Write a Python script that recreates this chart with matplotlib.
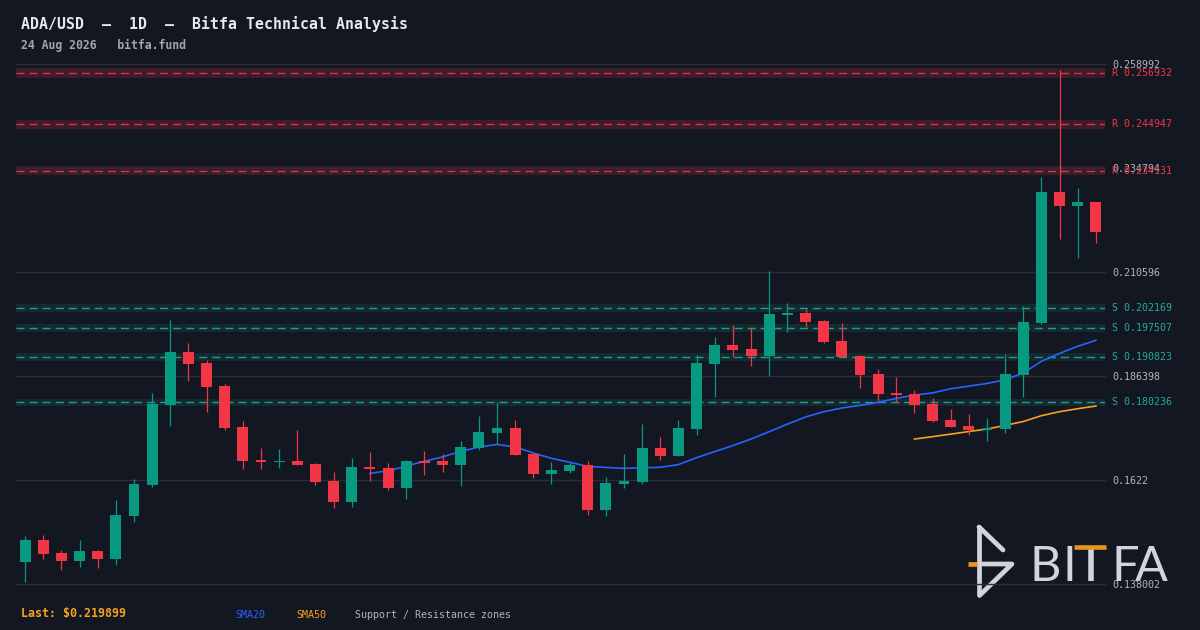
import matplotlib
matplotlib.use("Agg")
import matplotlib.pyplot as plt
import matplotlib.transforms as mtransforms
import numpy as np
import pandas as pd

# ---------------- data ----------------
opens = [0.1431, 0.1482, 0.1452, 0.1434, 0.1457, 0.1438, 0.1538, 0.1610, 0.1797, 0.1920,
         0.1894, 0.1841, 0.1745, 0.1669, 0.1663, 0.1666, 0.1659, 0.1620, 0.1571, 0.1652,
         0.1650, 0.1603, 0.1666, 0.1666, 0.1657, 0.1696, 0.1731, 0.1743, 0.1683, 0.1636,
         0.1643, 0.1657, 0.1552, 0.1613, 0.1617, 0.1696, 0.1678, 0.1741, 0.1892, 0.1936,
         0.1927, 0.1911, 0.2006, 0.2011, 0.1992, 0.1945, 0.1911, 0.1869, 0.1824, 0.1822,
         0.1799, 0.1762, 0.1748, 0.1738, 0.1741, 0.1866, 0.1987, 0.2292, 0.2260, 0.2269]

highs = [0.1492, 0.1494, 0.1459, 0.1482, 0.1459, 0.1575, 0.1624, 0.1824, 0.1994, 0.1941,
         0.1901, 0.1845, 0.1759, 0.1696, 0.1694, 0.1738, 0.1662, 0.1641, 0.1673, 0.1687,
         0.1662, 0.1669, 0.1689, 0.1683, 0.1713, 0.1771, 0.1804, 0.1762, 0.1683, 0.1664,
         0.1664, 0.1666, 0.1629, 0.1683, 0.1752, 0.1722, 0.1762, 0.1913, 0.1955, 0.1983,
         0.1976, 0.2108, 0.2034, 0.2020, 0.1994, 0.1987, 0.1913, 0.1880, 0.1862, 0.1831,
         0.1813, 0.1787, 0.1776, 0.1766, 0.1915, 0.2027, 0.2327, 0.2576, 0.2301, 0.2269]

lows = [0.1385, 0.1438, 0.1413, 0.1420, 0.1417, 0.1424, 0.1524, 0.1606, 0.1748, 0.1852,
        0.1780, 0.1738, 0.1648, 0.1648, 0.1650, 0.1657, 0.1610, 0.1557, 0.1559, 0.1620,
        0.1599, 0.1578, 0.1634, 0.1641, 0.1608, 0.1692, 0.1706, 0.1680, 0.1627, 0.1613,
        0.1638, 0.1541, 0.1538, 0.1603, 0.1613, 0.1669, 0.1678, 0.1727, 0.1815, 0.1908,
        0.1887, 0.1864, 0.1966, 0.1978, 0.1941, 0.1908, 0.1836, 0.1806, 0.1804, 0.1778,
        0.1757, 0.1745, 0.1727, 0.1713, 0.1731, 0.1815, 0.1985, 0.2183, 0.2139, 0.2173]

closes = [0.1482, 0.1450, 0.1434, 0.1457, 0.1438, 0.1541, 0.1613, 0.1799, 0.1920, 0.1892,
          0.1838, 0.1743, 0.1666, 0.1664, 0.1667, 0.1657, 0.1617, 0.1571, 0.1652, 0.1648,
          0.1603, 0.1666, 0.1662, 0.1657, 0.1699, 0.1734, 0.1743, 0.1680, 0.1636, 0.1645,
          0.1657, 0.1552, 0.1615, 0.1620, 0.1696, 0.1678, 0.1743, 0.1894, 0.1936, 0.1924,
          0.1911, 0.2008, 0.2011, 0.1990, 0.1943, 0.1908, 0.1866, 0.1822, 0.1820, 0.1797,
          0.1759, 0.1745, 0.1738, 0.1743, 0.1869, 0.1990, 0.2292, 0.2260, 0.2269, 0.219899]

resistance_levels = [0.256932, 0.244947, 0.234131]
support_levels = [0.202169, 0.197507, 0.190823, 0.180236]

y_ticks = [0.138002, 0.1622, 0.186398, 0.210596, 0.234794, 0.258992]
y_tick_labels = ["0.138002", "0.1622", "0.186398", "0.210596", "0.234794", "0.258992"]

last_price = 0.219899
title_text = "ADA/USD  –  1D  –  Bitfa Technical Analysis"
subtitle_text = "24 Aug 2026   bitfa.fund"

# ---------------- style ----------------
BG = "#131722"
UP = "#089981"
DOWN = "#f23645"
SUP = "#22ab94"
GRID = "#2a2e39"
TICK = "#b2b5be"
SMA20_C = "#2962ff"
SMA50_C = "#f7a21b"
LOGO = "#d1d4dc"
LOGO_OR = "#e8951c"
MONO = "DejaVu Sans Mono"
ZONE = 0.0045

W, H = 1200, 630
fig = plt.figure(figsize=(12, 6.3), dpi=100, facecolor=BG)

ax_l, ax_r, ax_t, ax_b = 16, 1105, 64, 584
ax = fig.add_axes([ax_l / W, 1 - ax_b / H, (ax_r - ax_l) / W, (ax_b - ax_t) / H], zorder=2)
ax.set_facecolor("none")

deco = fig.add_axes([0, 0, 1, 1], zorder=1)
deco.set_xlim(0, W)
deco.set_ylim(H, 0)
deco.axis("off")

# ---------------- candles ----------------
n = len(closes)
x = np.arange(n)
o = np.array(opens)
h = np.array(highs)
l = np.array(lows)
c = np.array(closes)
up = c >= o
colors = np.where(up, UP, DOWN)

min_body = 0.0004
body_h = np.abs(c - o)
mid = (c + o) / 2
body_bottom = np.where(body_h < min_body, mid - min_body / 2, np.minimum(o, c))
body_h = np.maximum(body_h, min_body)

ax.vlines(x, l, h, colors=colors, lw=0.9, zorder=3)
ax.bar(x, body_h, bottom=body_bottom, width=0.6, color=colors, lw=0, zorder=4)

# ---------------- SMAs ----------------
s = pd.Series(closes)
ax.plot(x, s.rolling(20).mean(), color=SMA20_C, lw=1.2, zorder=2.5)
ax.plot(x, s.rolling(50).mean(), color=SMA50_C, lw=1.2, zorder=2.5)

# ---------------- zones ----------------
trans = mtransforms.blended_transform_factory(ax.transAxes, ax.transData)
label_x = 1 + 7 / (ax_r - ax_l)
for lvl in resistance_levels:
    ax.axhspan(lvl * (1 - ZONE), lvl * (1 + ZONE), color=DOWN, alpha=0.18, lw=0, zorder=1)
    ax.axhline(lvl, color=DOWN, lw=1.0, ls=(0, (5.8, 3.6)), alpha=0.9, zorder=1.5)
    ax.text(label_x, lvl, f"R {lvl:.6f}", transform=trans, color=DOWN, fontsize=7.2,
            family=MONO, va="center", ha="left", clip_on=False)
for lvl in support_levels:
    ax.axhspan(lvl * (1 - ZONE), lvl * (1 + ZONE), color=SUP, alpha=0.13, lw=0, zorder=1)
    ax.axhline(lvl, color=SUP, lw=1.0, ls=(0, (5.8, 3.6)), alpha=0.9, zorder=1.5)
    ax.text(label_x, lvl, f"S {lvl:.6f}", transform=trans, color=SUP, fontsize=7.2,
            family=MONO, va="center", ha="left", clip_on=False)

# ---------------- axes ----------------
ax.set_xlim(-0.5, n - 0.5)
ax.set_ylim(y_ticks[0], y_ticks[-1])
ax.set_yticks(y_ticks)
ax.set_yticklabels(y_tick_labels)
ax.yaxis.tick_right()
ax.tick_params(axis="y", length=0, pad=5, labelsize=7.2, labelcolor=TICK)
for lab in ax.get_yticklabels():
    lab.set_family(MONO)
ax.set_xticks([])
ax.grid(axis="y", color=GRID, lw=1.0, zorder=0)
for gl in ax.get_ygridlines():
    gl.set_clip_on(False)
for sp in ax.spines.values():
    sp.set_visible(False)

# ---------------- texts ----------------
deco.text(21, 24, title_text, fontsize=10.7, weight="bold", color="#e6e8ee",
          family=MONO, va="center", ha="left")
deco.text(21, 45, subtitle_text, fontsize=8.3, weight="bold", color="#a3a6af",
          family=MONO, va="center", ha="left")
deco.text(21, 613, f"Last: \\${last_price:.6f}", fontsize=8.4, weight="bold", color=SMA50_C,
          family=MONO, va="center", ha="left")
deco.text(235, 615, "SMA20", fontsize=7.2, color=SMA20_C, family=MONO, va="center", ha="left")
deco.text(296, 615, "SMA50", fontsize=7.2, color=SMA50_C, family=MONO, va="center", ha="left")
deco.text(355, 615, "Support / Resistance zones", fontsize=7.2, color=TICK, family=MONO,
          va="center", ha="left")

# ---------------- logo ----------------
lw_logo = 3.4
deco.plot([979, 979], [527, 595], color=LOGO, lw=lw_logo, solid_capstyle="round")
deco.plot([979, 1003], [527, 550], color=LOGO, lw=lw_logo, solid_capstyle="round")
deco.plot([979, 1012, 980], [564, 564, 595], color=LOGO, lw=lw_logo,
          solid_capstyle="round", solid_joinstyle="round")
deco.plot([968, 977], [564, 564], color=LOGO_OR, lw=lw_logo, solid_capstyle="butt")
for letter, cx in [("B", 1045), ("I", 1069), ("F", 1125), ("A", 1151)]:
    deco.text(cx, 581, letter, fontsize=35, family="Lato", color=LOGO,
              ha="center", va="baseline")
deco.plot([1091, 1091], [549, 581], color=LOGO, lw=4.0, solid_capstyle="butt")
deco.plot([1074, 1106], [547, 547], color=LOGO_OR, lw=3.3, solid_capstyle="butt")

fig.savefig("out.png", dpi=100, facecolor=BG)
